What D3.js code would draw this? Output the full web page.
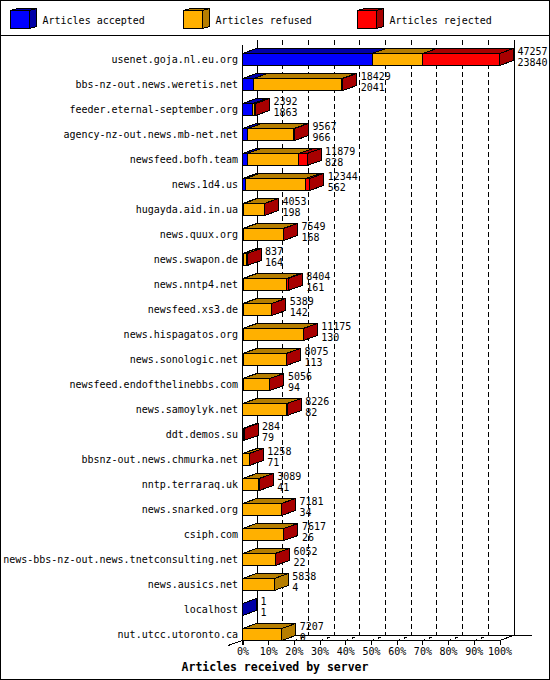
<!DOCTYPE html>
<html>
<head>
<meta charset="utf-8">
<script src="https://cdn.jsdelivr.net/npm/d3@7"></script>
<style>
  body { margin: 0; background: #fff; }
  svg { display: block; }
  text { font-family: "DejaVu Sans Mono", monospace; font-size: 10px; fill: #000; }
</style>
</head>
<body>
<div id="chart"></div>
<script>
const servers = [
    "usenet.goja.nl.eu.org", "bbs-nz-out.news.weretis.net", "feeder.eternal-september.org",
    "agency-nz-out.news.mb-net.net", "newsfeed.bofh.team", "news.1d4.us", "hugayda.aid.in.ua",
    "news.quux.org", "news.swapon.de", "news.nntp4.net", "newsfeed.xs3.de", "news.hispagatos.org",
    "news.sonologic.net", "newsfeed.endofthelinebbs.com", "news.samoylyk.net", "ddt.demos.su",
    "bbsnz-out.news.chmurka.net", "nntp.terraraq.uk", "news.snarked.org", "csiph.com",
    "news-bbs-nz-out.news.tnetconsulting.net", "news.ausics.net", "localhost", "nut.utcc.utoronto.ca"
];
const offered  = [47257, 18429, 2392, 9567, 11879, 12344, 4053, 7549, 837, 8404, 5389, 11175,
                  8075, 5056, 8226, 284, 1258, 3089, 7181, 7617, 6052, 5838, 1, 7207];
const accepted = [23840, 2041, 1863, 966, 828, 562, 198, 168, 164, 161, 142, 130,
                  113, 94, 82, 79, 71, 41, 34, 26, 22, 4, 1, 0];
const refused  = [9300, 16200, 330, 8450, 9550, 11100, 3800, 7300, 620, 7950, 5180, 11000,
                  7900, 4900, 8080, 180, 1130, 2990, 7090, 7540, 5990, 5834, 0, 7207];
const rejected = [14117, 188, 199, 151, 1501, 682, 55, 81, 53, 293, 67, 45,
                  62, 62, 64, 25, 57, 58, 57, 51, 40, 0, 0, 0];
const seriesNames = ["Articles accepted", "Articles refused", "Articles rejected"];
const percentTicks = [0, 10, 20, 30, 40, 50, 60, 70, 80, 90, 100];

const colors = ["#0000ff", "#ffb000", "#ff0000"];
const darks  = ["#0000a8", "#b67e00", "#a80000"];

const svgWidth = 550;
const svgHeight = 680;
const dx = 14, dy = 5;

const svg = d3.select("#chart")
    .append("svg")
    .attr("width", svgWidth)
    .attr("height", svgHeight)
    .attr("shape-rendering", "crispEdges");

svg.append("rect")
    .attr("x", 0.5).attr("y", 0.5)
    .attr("width", svgWidth - 1).attr("height", svgHeight - 1)
    .attr("fill", "#fff").attr("stroke", "#000");

svg.append("line")
    .attr("x1", 0).attr("x2", svgWidth)
    .attr("y1", 35.5).attr("y2", 35.5)
    .attr("stroke", "#000");

// legend with little cubes
const legendX = [10.5, 183.5, 357.5];
seriesNames.forEach(function (name, i) {
    const x = legendX[i], y = 10.5, w = 19, h = 18, ddx = 7, ddy = 2;
    const g = svg.append("g");
    g.append("rect").attr("x", x).attr("y", y).attr("width", w).attr("height", h)
        .attr("fill", colors[i]).attr("stroke", "#000");
    g.append("polygon")
        .attr("points", [[x, y], [x + ddx, y - ddy], [x + w + ddx, y - ddy], [x + w, y]].join(" "))
        .attr("fill", darks[i]).attr("stroke", "#000");
    g.append("polygon")
        .attr("points", [[x + w, y], [x + w + ddx, y - ddy], [x + w + ddx, y + h - ddy], [x + w, y + h]].join(" "))
        .attr("fill", darks[i]).attr("stroke", "#000");
    g.append("text").attr("x", x + 32).attr("y", 23.5).text(name);
});

const xScale = d3.scaleLinear()
    .domain([0, d3.max(offered)])
    .range([242.5, 499.5]);

const pScale = d3.scaleLinear()
    .domain([0, 100])
    .range([242.5, 499.5]);

const yScale = d3.scaleBand()
    .domain(servers)
    .range([47, 647])
    .paddingInner(0.52)
    .paddingOuter(0.26);

const plotTop = 40, floorFront = 640, floorBack = floorFront - dy;

// back wall: dashed grid lines
svg.selectAll(".grid")
    .data(percentTicks.slice(1, -1))
    .enter().append("line")
    .attr("x1", d => Math.round(pScale(d) + dx) + 0.5)
    .attr("x2", d => Math.round(pScale(d) + dx) + 0.5)
    .attr("y1", plotTop).attr("y2", floorBack)
    .attr("stroke", "#000")
    .attr("stroke-dasharray", "5,3");

// floor dashed diagonals
svg.selectAll(".floorgrid")
    .data(percentTicks.slice(1, -1))
    .enter().append("line")
    .attr("x1", d => Math.round(pScale(d)) + 0.5)
    .attr("y1", floorFront + 0.5)
    .attr("x2", d => Math.round(pScale(d) + dx) + 0.5)
    .attr("y2", floorBack + 0.5)
    .attr("stroke", "#000")
    .attr("stroke-dasharray", "3,4");

// back axis and right wall
[0, 100].forEach(function (p) {
    svg.append("line")
        .attr("x1", Math.round(pScale(p) + dx) + 0.5)
        .attr("x2", Math.round(pScale(p) + dx) + 0.5)
        .attr("y1", plotTop).attr("y2", floorBack + 0.5)
        .attr("stroke", "#000");
});

// floor edges
svg.append("line")
    .attr("x1", pScale(0) + dx).attr("x2", 532)
    .attr("y1", floorBack + 0.5).attr("y2", floorBack + 0.5)
    .attr("stroke", "#000");
svg.append("line")
    .attr("x1", pScale(100)).attr("y1", floorFront + 0.5)
    .attr("x2", pScale(100) + dx).attr("y2", floorBack + 0.5)
    .attr("stroke", "#000");
svg.append("line")
    .attr("x1", 228).attr("y1", floorFront + 5.5)
    .attr("x2", pScale(0)).attr("y2", floorFront + 0.5)
    .attr("stroke", "#000");

// front x axis
const xAxis = d3.axisBottom(pScale)
    .tickValues(percentTicks)
    .tickFormat(d => d + "%")
    .tickSize(5)
    .tickSizeOuter(0)
    .tickPadding(3);
svg.append("g")
    .attr("transform", "translate(0," + floorFront + ")")
    .call(xAxis)
    .call(g => g.selectAll("text").attr("font-family", null).attr("font-size", null));

// front y axis line
svg.append("line")
    .attr("x1", 242.5).attr("x2", 242.5)
    .attr("y1", plotTop + dy).attr("y2", floorFront + 5)
    .attr("stroke", "#000");

// category labels
const yAxis = d3.axisLeft(yScale).tickSize(0).tickPadding(4);
svg.append("g")
    .attr("transform", "translate(242,0)")
    .call(yAxis)
    .call(g => g.select(".domain").remove())
    .call(g => g.selectAll("text").attr("font-family", null).attr("font-size", null));

// stacked 3d bars
const stackData = servers.map((s, i) => ({ server: s, values: [accepted[i], refused[i], rejected[i]] }));

const rows = svg.selectAll(".row")
    .data(stackData)
    .enter().append("g")
    .attr("class", "row");

rows.each(function (d) {
    const g = d3.select(this);
    const y = yScale(d.server);
    const h = yScale.bandwidth();
    let cum = 0;
    d.values.forEach(function (v, k) {
        if (v <= 0) return;
        const x0 = xScale(cum), x1 = xScale(cum + v);
        cum += v;
        g.append("rect")
            .attr("x", x0).attr("y", y)
            .attr("width", x1 - x0).attr("height", h)
            .attr("fill", colors[k]).attr("stroke", "#000");
        g.append("polygon")
            .attr("points", [[x0, y], [x0 + dx, y - dy], [x1 + dx, y - dy], [x1, y]].join(" "))
            .attr("fill", darks[k]).attr("stroke", "#000");
        g.append("polygon")
            .attr("points", [[x1, y], [x1 + dx, y - dy], [x1 + dx, y + h - dy], [x1, y + h]].join(" "))
            .attr("fill", darks[k]).attr("stroke", "#000");
    });
});

// value labels: offered on top, accepted below
rows.append("text")
    .attr("x", (d, i) => xScale(offered[i]) + dx + 4)
    .attr("y", d => yScale(d.server) + 1)
    .text((d, i) => offered[i]);
rows.append("text")
    .attr("x", (d, i) => xScale(offered[i]) + dx + 4)
    .attr("y", d => yScale(d.server) + 12)
    .text((d, i) => accepted[i]);

svg.append("text")
    .attr("x", svgWidth / 2)
    .attr("y", 670.5)
    .attr("text-anchor", "middle")
    .style("font-weight", "bold")
    .style("font-size", "11.5px")
    .text("Articles received by server");
</script>
</body>
</html>
